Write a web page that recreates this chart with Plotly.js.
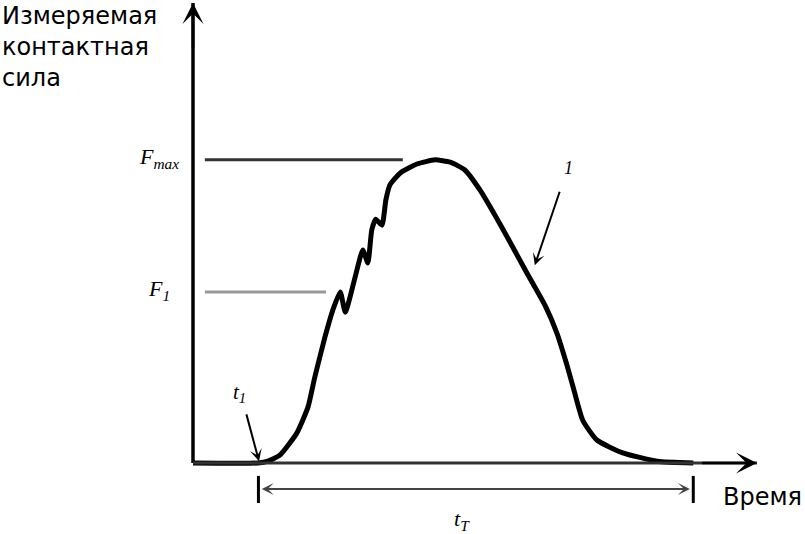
<!DOCTYPE html>
<html>
<head>
<meta charset="utf-8">
<script src="https://cdn.plot.ly/plotly-3.0.1.min.js"></script>
<style>
  body { margin: 0; background: #fff; }
  #chart { width: 805px; height: 534px; }
</style>
</head>
<body>
<div id="chart"></div>
<script>
// contact force curve, arbitrary units (time 0..10, force 0..10)
const timePts = [0, 1.15, 1.33, 1.54, 1.84, 2.04, 2.16, 2.34, 2.48, 2.61, 2.70, 2.87, 3.01, 3.10, 3.17, 3.24, 3.35, 3.42, 3.49, 3.67, 3.97, 4.29, 4.56, 4.82, 5.09, 5.50, 5.92, 6.24, 6.45, 6.63, 6.74, 6.91, 7.16, 7.62, 8.23, 8.87];
const forcePts = [0, 0, 0.04, 0.17, 0.65, 1.22, 1.87, 2.74, 3.33, 3.72, 3.28, 4.02, 4.63, 4.35, 5.07, 5.30, 5.17, 5.72, 6.04, 6.30, 6.50, 6.59, 6.54, 6.37, 5.93, 5.07, 4.13, 3.43, 2.83, 2.13, 1.65, 0.93, 0.50, 0.22, 0.04, 0];

// force levels marked on the axis
const levelNames = ['<i>F</i><sub><i>max</i></sub>', '<i>F</i><sub><i>1</i></sub>'];
const levelValues = [6.59, 3.72];
const levelEnds = [3.72, 2.36];
const levelColors = ['#333', '#999'];

const tStart = 1.16;   // t1
const tEnd = 8.87;     // end of contact
const axisTopY = 10.0;
const axisEndX = 10.0;
const dimY = -0.565;

const serif = { family: 'Liberation Serif, serif', color: '#000' };
const sans = { family: 'DejaVu Sans, sans-serif', size: 24, color: '#000' };

const curve = {
  x: timePts,
  y: forcePts,
  mode: 'lines',
  line: { color: '#000', width: 5, shape: 'spline', smoothing: 0.5 },
  hoverinfo: 'skip',
};

const shapes = [
  { type: 'line', x0: 0, x1: 0, y0: 0, y1: axisTopY, line: { color: '#000', width: 3.5 } },
  { type: 'line', x0: 0, x1: axisEndX, y0: 0, y1: 0, line: { color: '#333', width: 3 } },
  { type: 'line', x0: tStart, x1: tStart, y0: -0.28, y1: -0.87, line: { color: '#000', width: 3 } },
  { type: 'line', x0: tEnd, x1: tEnd, y0: -0.28, y1: -0.87, line: { color: '#000', width: 3 } },
  { type: 'line', x0: tStart + 0.3, x1: tEnd - 0.3, y0: dimY, y1: dimY, line: { color: '#444', width: 2 } },
];
levelValues.forEach((v, i) => {
  shapes.push({ type: 'line', x0: 0.21, x1: levelEnds[i], y0: v, y1: v,
    line: { color: levelColors[i], width: 3 } });
});

function arrow(x, y, ax, ay, size, width, color) {
  return { x: x, y: y, ax: ax, ay: ay, axref: 'x', ayref: 'y', xref: 'x', yref: 'y',
    text: '', showarrow: true, arrowhead: 3, arrowsize: size, arrowwidth: width,
    arrowcolor: color, standoff: 0 };
}

const annotations = [
  arrow(0, axisTopY, 0, axisTopY - 1, 1.4, 2.5, '#000'),
  arrow(axisEndX, 0, axisEndX - 1, 0, 1.4, 2.5, '#000'),
  arrow(tStart + 0.06, dimY, tStart + 1, dimY, 1, 2, '#444'),
  arrow(tEnd - 0.06, dimY, tEnd - 1, dimY, 1, 2, '#444'),
  arrow(1.17, 0.04, 0.94, 1.09, 1, 2, '#000'),
  arrow(6.06, 4.30, 6.51, 5.93, 1, 2, '#000'),
  { x: 0, y: 1, xref: 'paper', yref: 'paper', xanchor: 'left', yanchor: 'top', showarrow: false,
    align: 'left', text: 'Измеряемая<br>контактная<br>сила', font: sans },
  { x: 10.1, y: -0.74, xref: 'x', yref: 'y', showarrow: false, text: 'Время', font: sans },
  { x: 0.83, y: 1.52, xref: 'x', yref: 'y', showarrow: false, text: '<i>t</i><sub><i>1</i></sub>',
    font: Object.assign({ size: 21 }, serif) },
  { x: 4.77, y: -1.24, xref: 'x', yref: 'y', showarrow: false, text: '<i>t</i><sub><i>T</i></sub>',
    font: Object.assign({ size: 22 }, serif) },
  { x: 6.65, y: 6.41, xref: 'x', yref: 'y', showarrow: false, text: '<i>1</i>',
    font: Object.assign({ size: 18 }, serif) },
];
levelValues.forEach((v, i) => {
  annotations.push({ x: -0.6, y: v + 0.04, xref: 'x', yref: 'y', showarrow: false,
    text: levelNames[i], font: Object.assign({ size: 22 }, serif) });
});

const layout = {
  width: 805,
  height: 534,
  margin: { l: 0, r: 0, t: 0, b: 0 },
  paper_bgcolor: '#fff',
  plot_bgcolor: '#fff',
  showlegend: false,
  xaxis: { range: [-3.422, 10.851], visible: false, fixedrange: true },
  yaxis: { range: [-1.543, 10.065], visible: false, fixedrange: true },
  shapes: shapes,
  annotations: annotations,
};

Plotly.newPlot('chart', [curve], layout, { displayModeBar: false, staticPlot: true });
</script>
</body>
</html>
